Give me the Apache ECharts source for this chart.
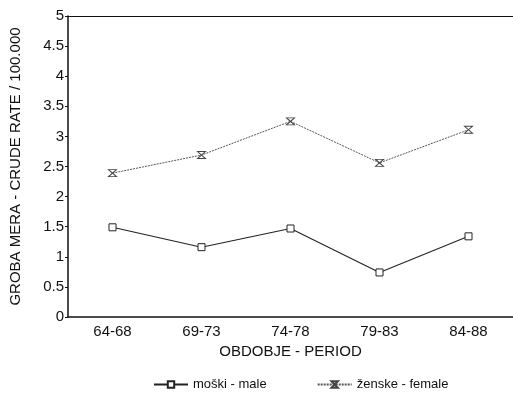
<!DOCTYPE html>
<html>
<head>
<meta charset="utf-8">
<script src="https://cdn.jsdelivr.net/npm/echarts@6/dist/echarts.min.js"></script>
<style>
  html, body { margin: 0; padding: 0; background: #fff; }
  #chart { width: 513px; height: 399px; }
</style>
</head>
<body>
<div id="chart"></div>
<script>
const periods = ['64-68', '69-73', '74-78', '79-83', '84-88'];
const male = [1.49, 1.16, 1.47, 0.74, 1.34];
const female = [2.39, 2.69, 3.25, 2.56, 3.11];
const yTicks = [0, 0.5, 1, 1.5, 2, 2.5, 3, 3.5, 4, 4.5, 5];

// hourglass marker used for the female series
const hourglass = 'path://M0,0 L10,0 L0,10 L10,10 Z';
const font = 'Liberation Sans, Arial, sans-serif';

const chart = echarts.init(document.getElementById('chart'));

chart.setOption({
  animation: false,
  textStyle: { fontFamily: font, color: '#111' },
  grid: { left: 64, right: -4, top: 16, bottom: 82 },
  legend: {
    bottom: 3,
    left: 148,
    itemGap: 50,
    itemWidth: 34,
    itemHeight: 8,
    textStyle: { fontSize: 13, color: '#111', fontFamily: font },
    data: ['moški - male', 'ženske - female']
  },
  xAxis: [
    {
      type: 'category',
      data: periods,
      name: 'OBDOBJE - PERIOD',
      nameLocation: 'middle',
      nameGap: 27,
      nameTextStyle: { fontSize: 15, color: '#111' },
      axisLine: { lineStyle: { color: '#111', width: 1.5 } },
      axisTick: { alignWithLabel: true, length: 3, lineStyle: { color: '#111' } },
      axisLabel: { fontSize: 15, color: '#111', margin: 7 }
    },
    {
      type: 'category',
      data: periods,
      position: 'top',
      axisLine: { show: true, lineStyle: { color: '#111', width: 1.2 } },
      axisTick: { show: false },
      axisLabel: { show: false }
    }
  ],
  yAxis: {
    type: 'value',
    min: 0,
    max: 5,
    interval: 0.5,
    name: 'GROBA MERA - CRUDE RATE / 100.000',
    nameLocation: 'middle',
    nameGap: 45,
    nameTextStyle: { fontSize: 15, color: '#111' },
    axisLine: { show: true, lineStyle: { color: '#111', width: 1.5 } },
    axisTick: { show: true, length: 3, lineStyle: { color: '#111' } },
    axisLabel: {
      fontSize: 15,
      color: '#111',
      margin: 4,
      formatter: v => (yTicks.includes(v) ? String(v) : '')
    },
    splitLine: { show: false }
  },
  series: [
    {
      name: 'moški - male',
      type: 'line',
      data: male,
      symbol: 'rect',
      symbolSize: 7,
      itemStyle: { color: '#fff', borderColor: '#222', borderWidth: 1 },
      lineStyle: { color: '#222', width: 1.1 }
    },
    {
      name: 'ženske - female',
      type: 'line',
      data: female,
      symbol: hourglass,
      symbolSize: [8, 7],
      itemStyle: { color: '#fff', borderColor: '#444', borderWidth: 1 },
      lineStyle: { color: '#555', width: 1, type: [2, 1] }
    }
  ]
});
</script>
</body>
</html>
